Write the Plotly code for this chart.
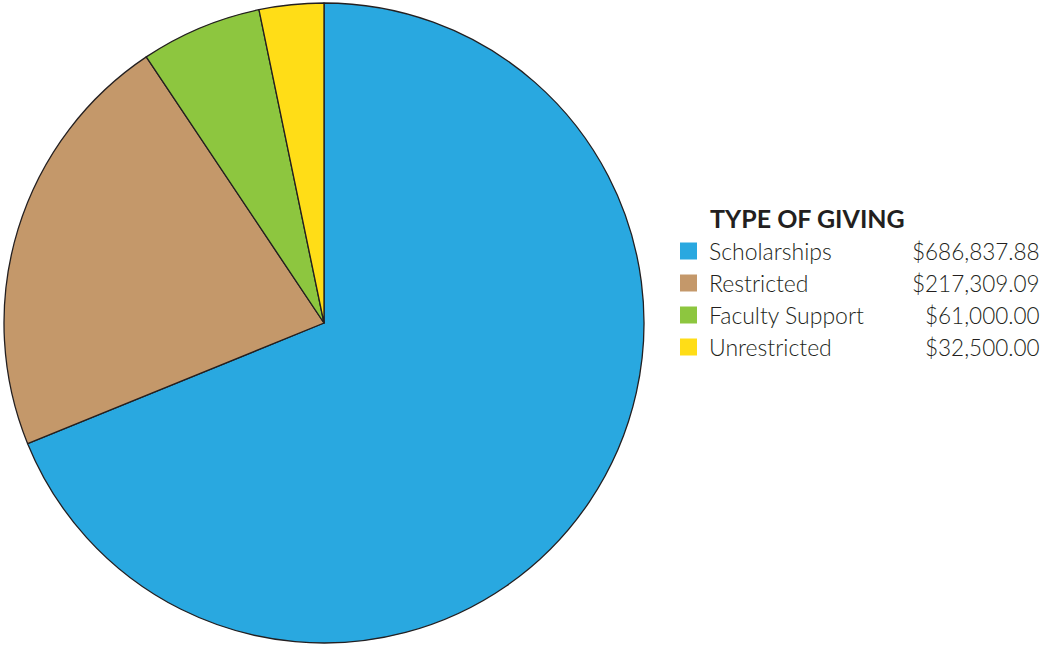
import plotly.graph_objects as go

categories = ["Scholarships", "Restricted", "Faculty Support", "Unrestricted"]
values = [686837.88, 217309.09, 61000.00, 32500.00]
value_labels = ["$686,837.88", "$217,309.09", "$61,000.00", "$32,500.00"]
colors = ["#29A8E0", "#C4986A", "#8DC63F", "#FFDD17"]
legend_title = "TYPE OF GIVING"

W, H = 1046, 645
TXT = "#231F20"

fig = go.Figure()
fig.add_trace(go.Pie(
    labels=categories, values=values, sort=False, direction="clockwise",
    rotation=0, textinfo="none", showlegend=False,
    marker=dict(colors=colors, line=dict(color=TXT, width=1.3)),
    domain=dict(x=[4 / W, 644 / W], y=[1 - 643 / H, 1 - 3 / H]),
))

def px(x):
    return x / W

def py(y):
    return 1 - y / H

annotations = [dict(
    x=px(708), y=py(218), xref="paper", yref="paper", text="<b>" + legend_title + "</b>",
    showarrow=False, xanchor="left", yanchor="middle",
    font=dict(family="Lato", size=25, color=TXT),
)]
shapes = []
row_y = [251, 283, 315, 347]
for cat, lab, col, yy in zip(categories, value_labels, colors, row_y):
    annotations.append(dict(
        x=px(707), y=py(yy), xref="paper", yref="paper", text=cat,
        showarrow=False, xanchor="left", yanchor="middle",
        font=dict(family="Lato", size=23, color=TXT, weight=300),
    ))
    annotations.append(dict(
        x=px(1042), y=py(yy), xref="paper", yref="paper", text=lab,
        showarrow=False, xanchor="right", yanchor="middle",
        font=dict(family="Lato", size=22.5, color=TXT, weight=300),
    ))
    shapes.append(dict(
        type="rect", xref="paper", yref="paper",
        x0=px(680), x1=px(697), y0=py(yy + 8.5), y1=py(yy - 8.5),
        fillcolor=col, line=dict(width=0),
    ))

fig.update_layout(
    width=W, height=H, margin=dict(l=0, r=0, t=0, b=0),
    paper_bgcolor="white", plot_bgcolor="white",
    annotations=annotations, shapes=shapes,
)
fig.write_html("out.html", config={"displayModeBar": False},
               post_script="document.body.style.margin='0';document.body.style.overflow='hidden';")
